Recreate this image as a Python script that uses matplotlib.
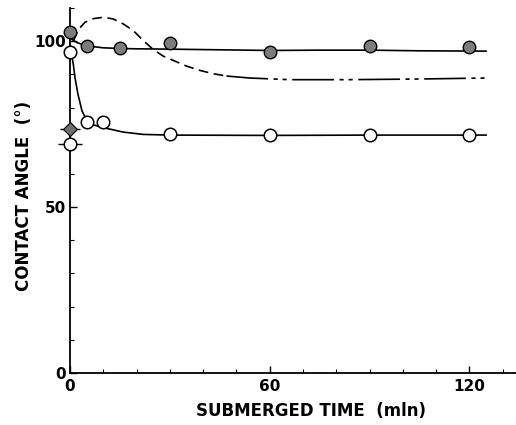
import matplotlib
matplotlib.use("Agg")
import matplotlib.pyplot as plt
from matplotlib.ticker import MultipleLocator

plt.rcParams['font.family'] = ['DejaVu Sans']
plt.rcParams['lines.scale_dashes'] = False

# Measured contact angles (degrees) vs. submerged time (min)
filled_t = [0, 5, 15, 30, 60, 90, 120]
filled_v = [102.7, 98.5, 97.9, 99.4, 96.7, 98.5, 98.2]
open_t = [0, 5, 10, 30, 60, 90, 120]
open_v = [96.7, 75.6, 75.6, 72.0, 71.7, 71.7, 71.7]
diamond_t = [0]
diamond_v = [73.5]
open0_t = [0]
open0_v = [69.0]

# Trend curves traced through the data
filled_curve_t = [0, 2, 5, 10, 15, 20, 30, 45, 60, 75, 90, 105, 125]
filled_curve_v = [101.0, 99.6, 98.6, 98.0, 97.8, 97.7, 97.6, 97.4, 97.2, 97.3, 97.3, 97.1, 97.0]
open_curve_t = [0.3, 1.0, 1.5, 2.4, 3.6, 5, 7, 9, 12, 16, 22, 30, 60, 90, 125]
open_curve_v = [97.0, 93.0, 89.0, 84.0, 79.0, 76.2, 74.8, 74.2, 73.5, 72.6, 71.9, 71.7, 71.6, 71.7, 71.7]
dash_curve_t = [1, 2.5, 4.5, 7, 10, 13, 16, 19, 22, 25, 28, 31.5, 35, 39, 43, 47]
dash_curve_v = [100.0, 103.5, 105.7, 106.8, 107.2, 106.7, 105.2, 103.2, 100.2, 97.5, 95.5, 94.0, 92.5, 91.2, 90.2, 89.5]
dashdot_curve_t = [47, 54, 66, 84, 105, 125]
dashdot_curve_v = [89.5, 88.9, 88.4, 88.4, 88.6, 88.9]

x_ticklabels = ['0', '60', '120']
y_ticklabels = ['0', '50', '100']

fig = plt.figure(figsize=(5.16, 4.25), dpi=100)
ax = fig.add_axes([70 / 516, 52 / 425, 446 / 516, 365 / 425])
ax.set_xlim(0, 134)
ax.set_ylim(0, 110)

lw = 1.2
ax.plot(filled_curve_t, filled_curve_v, color='black', lw=lw, zorder=2)
ax.plot(open_curve_t, open_curve_v, color='black', lw=lw, zorder=2)
ax.plot(dash_curve_t, dash_curve_v, color='black', lw=lw, dashes=(7, 4), zorder=2)
ax.plot(dashdot_curve_t, dashdot_curve_v, color='black', lw=lw,
        dashes=(30, 4, 3, 3.5, 3, 4), zorder=2)

ms = 9
ax.plot(filled_t, filled_v, 'o', ms=ms, mfc='#7c7c7c', mec='black', mew=1.0,
        clip_on=False, zorder=4)
ax.plot(open_t, open_v, 'o', ms=ms, mfc='white', mec='black', mew=1.1,
        clip_on=False, zorder=4)
ax.plot(diamond_t, diamond_v, '_', ms=15, mew=1.0, color='black', clip_on=False, zorder=3)
ax.plot(diamond_t, diamond_v, 'D', ms=7, mfc='#6e6e6e', mec='black', mew=0.8,
        clip_on=False, zorder=4)
ax.plot(open0_t, open0_v, '_', ms=17, mew=1.0, color='black', clip_on=False, zorder=3)
ax.plot(open0_t, open0_v, 'o', ms=ms, mfc='white', mec='black', mew=1.1,
        clip_on=False, zorder=4)

for side in ('top', 'right'):
    ax.spines[side].set_visible(False)
for side in ('left', 'bottom'):
    ax.spines[side].set_linewidth(1.3)

ax.set_xticks([0, 60, 120])
ax.set_xticklabels(x_ticklabels, fontweight='bold')
ax.set_yticks([0, 50, 100])
ax.set_yticklabels(y_ticklabels, fontweight='bold')
ax.xaxis.set_minor_locator(MultipleLocator(10))
ax.yaxis.set_minor_locator(MultipleLocator(10))
ax.tick_params(which='major', direction='in', length=5, width=1.0, labelsize=11, pad=4)
ax.tick_params(which='minor', direction='in', length=3, width=0.8)
ax.tick_params(axis='y', which='major', pad=3)

fig.text(311 / 516, 1 - 411 / 425, 'SUBMERGED TIME  (mln)', ha='center', va='center',
         fontsize=12, fontweight='bold')
fig.text(24 / 516, 1 - 196 / 425, 'CONTACT ANGLE  (°)', ha='center', va='center',
         rotation=90, fontsize=12, fontweight='bold')

fig.savefig('out.png', dpi=100)
